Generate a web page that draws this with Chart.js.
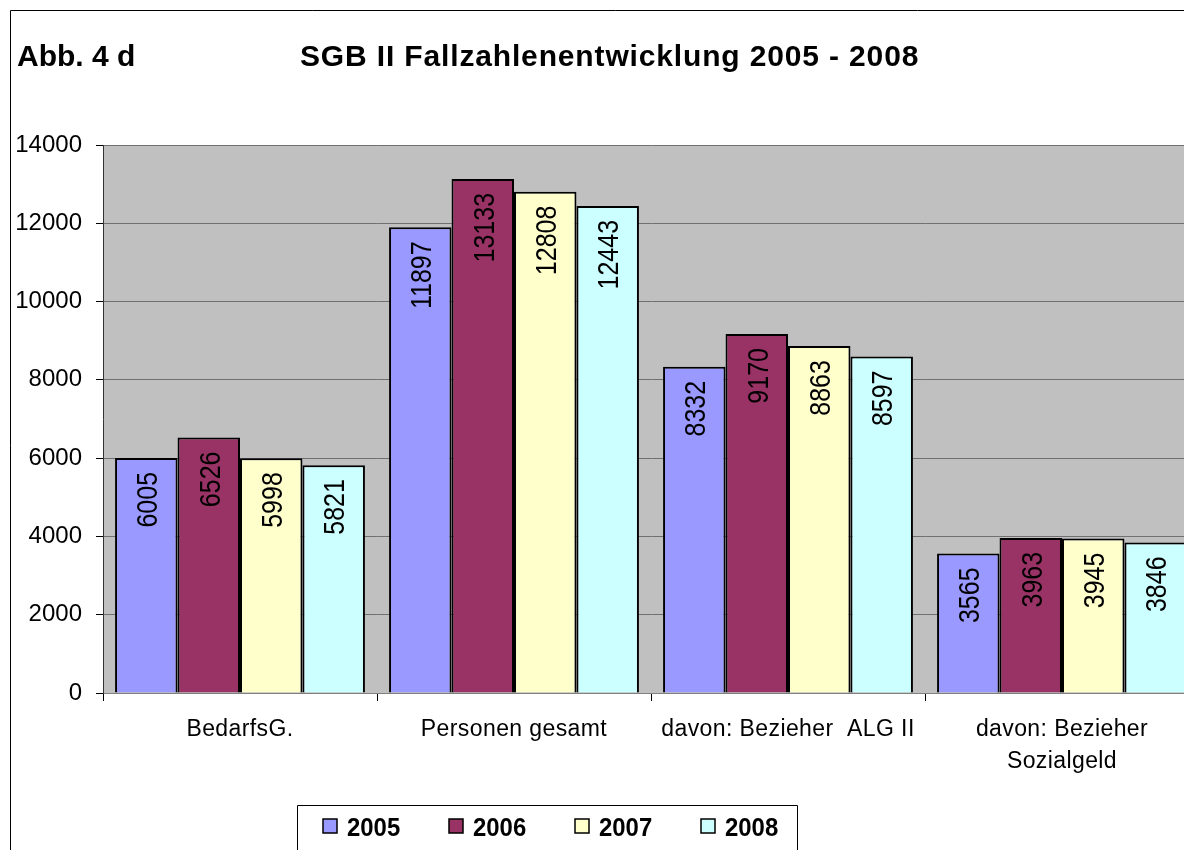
<!DOCTYPE html>
<html>
<head>
<meta charset="utf-8">
<script src="https://cdn.jsdelivr.net/npm/chart.js@4/dist/chart.umd.min.js"></script>
<style>
  html, body { margin: 0; padding: 0; background: #fff; overflow: hidden; width: 1184px; height: 850px; }
  #wrap { position: absolute; left: 0; top: 0; width: 1220px; height: 880px; }
</style>
</head>
<body>
<div id="wrap"><canvas id="c" width="1220" height="880"></canvas></div>
<script>
const categories = ['BedarfsG.', 'Personen gesamt', 'davon: Bezieher  ALG II', ['davon: Bezieher', 'Sozialgeld']];
const years = ['2005', '2006', '2007', '2008'];
const values2005 = [6005, 11897, 8332, 3565];
const values2006 = [6526, 13133, 9170, 3963];
const values2007 = [5998, 12808, 8863, 3945];
const values2008 = [5821, 12443, 8597, 3846];
const yTicks = [0, 2000, 4000, 6000, 8000, 10000, 12000, 14000];
const titleLeft = 'Abb. 4 d';
const titleMain = 'SGB II Fallzahlenentwicklung 2005 - 2008';

const colors = ['#9999FF', '#993366', '#FFFFCC', '#CCFFFF'];
const FONT = '"Liberation Sans", Arial, sans-serif';

const decorPlugin = {
  id: 'decor',
  beforeDraw(chart) {
    const ctx = chart.ctx;
    const xs = chart.scales.x;
    if (!xs._patched) {
      const orig = xs.drawLabels.bind(xs);
      xs.drawLabels = function (area) {
        ctx.save();
        ctx.letterSpacing = '0.4px';
        orig(area);
        ctx.restore();
      };
      xs._patched = true;
    }
    const a = chart.chartArea;
    ctx.save();
    ctx.fillStyle = '#fff';
    ctx.fillRect(0, 0, chart.width, chart.height);
    ctx.fillStyle = '#C0C0C0';
    ctx.fillRect(a.left, a.top, a.right - a.left, a.bottom - a.top);
    ctx.restore();
  },
  afterDatasetsDraw(chart) {
    const ctx = chart.ctx;
    chart.data.datasets.forEach((ds, di) => {
      const meta = chart.getDatasetMeta(di);
      meta.data.forEach((el, i) => {
        const f = 25;
        ctx.save();
        ctx.translate(el.x, el.y + 14);
        ctx.rotate(-Math.PI / 2);
        ctx.scale(1, 1.2);
        ctx.font = f + 'px ' + FONT;
        ctx.fillStyle = '#000';
        ctx.textAlign = 'right';
        ctx.textBaseline = 'alphabetic';
        ctx.fillText(String(ds.data[i]), 0, 0.358 * f);
        ctx.restore();
      });
    });
  },
  afterDraw(chart) {
    const ctx = chart.ctx;
    ctx.save();
    ctx.strokeStyle = '#000';
    ctx.lineWidth = 1;
    ctx.beginPath();
    ctx.moveTo(10.5, chart.height);
    ctx.lineTo(10.5, 10.5);
    ctx.lineTo(chart.width, 10.5);
    ctx.stroke();
    ctx.fillStyle = '#000';
    ctx.font = 'bold 30px ' + FONT;
    ctx.textBaseline = 'alphabetic';
    ctx.textAlign = 'left';
    ctx.fillText(titleLeft, 17, 66);
    ctx.letterSpacing = '0.85px';
    ctx.fillText(titleMain, 300, 66);
    ctx.letterSpacing = '0px';
    ctx.beginPath();
    ctx.moveTo(297.5, chart.height);
    ctx.lineTo(297.5, 805.5);
    ctx.lineTo(797.5, 805.5);
    ctx.lineTo(797.5, chart.height);
    ctx.stroke();
    chart.data.datasets.forEach((ds, i) => {
      const x = 323 + i * 126;
      ctx.fillStyle = ds.backgroundColor;
      ctx.fillRect(x, 819, 14, 14);
      ctx.lineWidth = 1.5;
      ctx.strokeStyle = '#000';
      ctx.strokeRect(x, 819, 14, 14);
      ctx.save();
      ctx.translate(x + 24, 836);
      ctx.scale(0.92, 1);
      ctx.fillStyle = '#000';
      ctx.font = 'bold 26px ' + FONT;
      ctx.fillText(ds.label, 0, 0);
      ctx.restore();
    });
    ctx.restore();
  }
};

const datasets = [values2005, values2006, values2007, values2008].map((vals, i) => ({
  label: years[i],
  data: vals,
  backgroundColor: colors[i],
  borderColor: '#000',
  borderWidth: 2,
  categoryPercentage: 0.912,
  barPercentage: 1.0
}));

new Chart(document.getElementById('c'), {
  type: 'bar',
  data: { labels: categories, datasets },
  options: {
    responsive: false,
    animation: false,
    devicePixelRatio: 1,
    layout: { padding: { left: 0, top: 145, right: 21, bottom: 67 } },
    plugins: {
      legend: { display: false },
      title: { display: false },
      tooltip: { enabled: false }
    },
    scales: {
      x: {
        offset: true,
        grid: {
          display: true,
          drawOnChartArea: false,
          drawTicks: true,
          tickLength: 8,
          tickColor: '#000',
          offset: true
        },
        border: { display: true, color: '#808080', width: 1 },
        ticks: {
          color: '#000',
          padding: 12,
          maxRotation: 0,
          minRotation: 0,
          autoSkip: false,
          font: { family: FONT, size: 23, lineHeight: 1.41 }
        },
        afterFit(scale) { scale.height = 120; }
      },
      y: {
        min: 0,
        max: 14000,
        afterBuildTicks(scale) { scale.ticks = yTicks.map(v => ({ value: v })); },
        grid: {
          color: '#707070',
          lineWidth: 1,
          drawTicks: true,
          tickLength: 7,
          tickColor: '#000'
        },
        border: { display: true, color: '#333', width: 1 },
        ticks: {
          color: '#000',
          padding: 14,
          font: { family: FONT, size: 24 },
          callback: v => String(v)
        },
        afterFit(scale) { scale.width = 103; }
      }
    }
  },
  plugins: [decorPlugin]
});
</script>
</body>
</html>
